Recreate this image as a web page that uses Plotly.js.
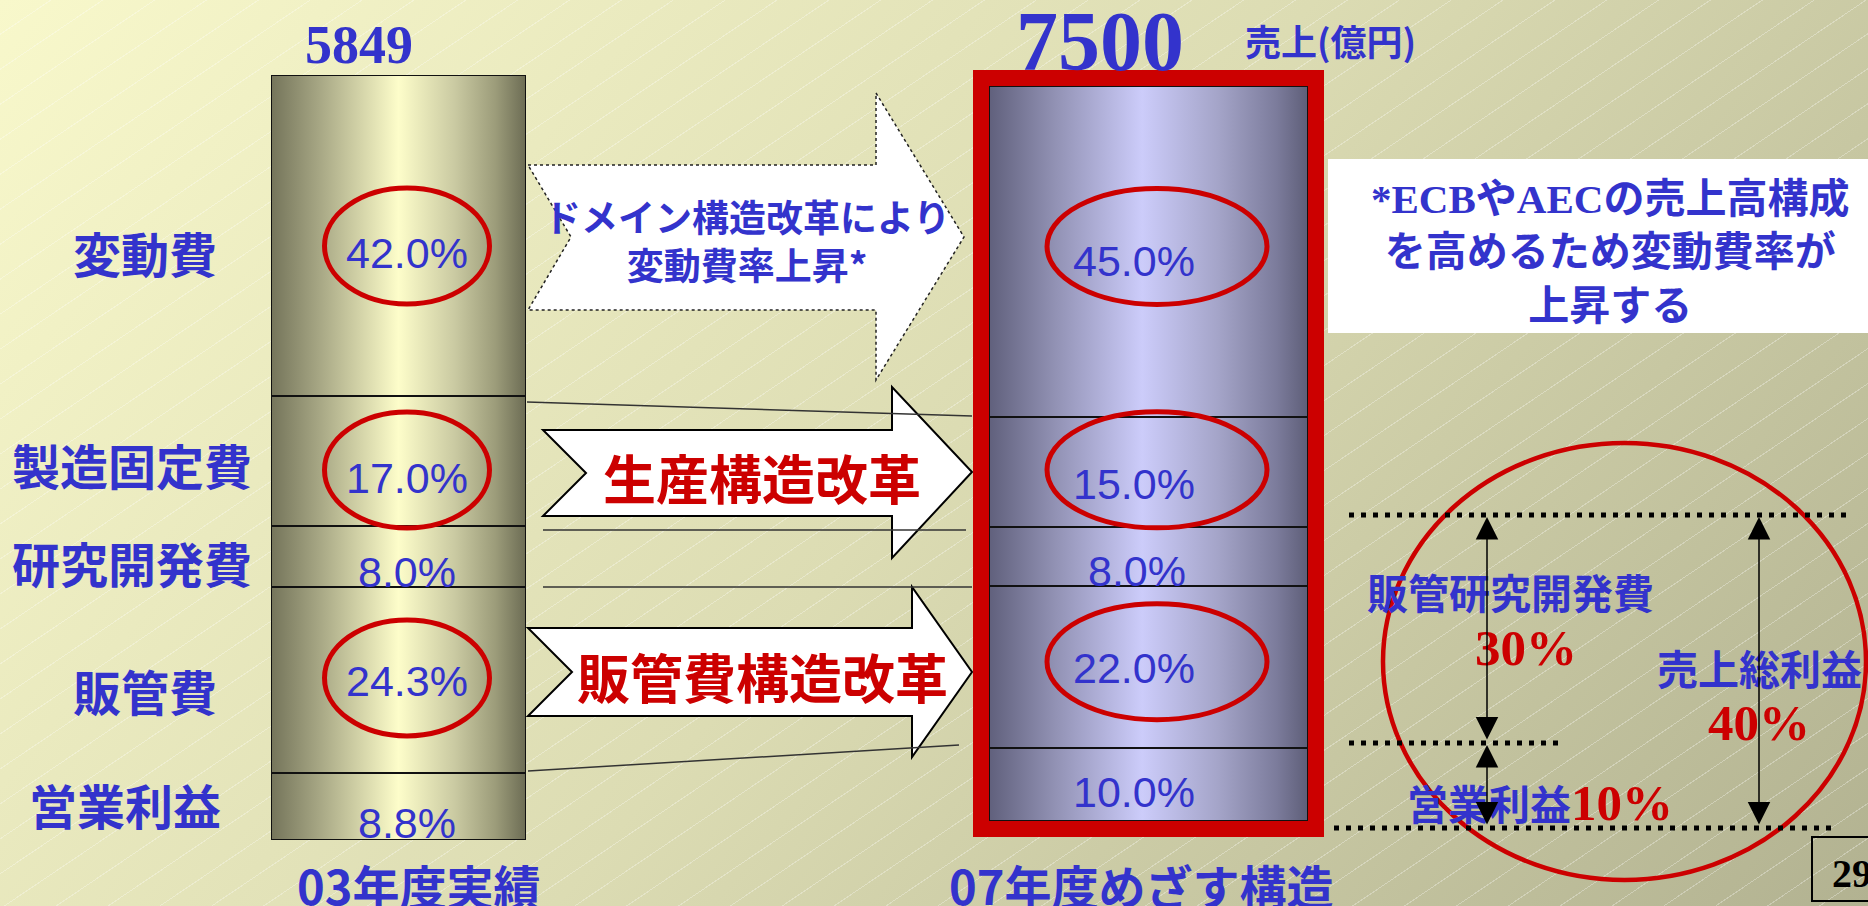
<!DOCTYPE html>
<html><head><meta charset="utf-8">
<script src="https://cdn.plot.ly/plotly-3.0.1.min.js"></script>
<style>
html,body{margin:0;padding:0;width:1868px;height:906px;overflow:hidden;}
body{background:
 repeating-linear-gradient(146deg, rgba(255,255,255,0) 0px, rgba(255,255,255,0) 28px, rgba(255,255,255,0.3) 28px, rgba(255,255,255,0.3) 29px),
 linear-gradient(130deg, #f8f8cb 0%, #dcdcb3 50%, #b2b291 100%);}
#chart{width:1868px;height:906px;}
</style></head><body><div id="chart"></div>
<script>
// ---------------- data ----------------
const categories = ['変動費', '製造固定費', '研究開発費', '販管費', '営業利益']; // top -> bottom
const share03 = [42.0, 17.0, 8.0, 24.3, 8.8];
const share07 = [45.0, 15.0, 8.0, 22.0, 10.0];
const highlighted = ['変動費', '製造固定費', '販管費'];
const sales = [5849, 7500];
const years = ['03年度実績', '07年度めざす構造'];
const salesUnit = '売上(億円)';
const reforms = ['ドメイン構造改革により<br>変動費率上昇*', '生産構造改革', '販管費構造改革'];
const noteLines = ['*ECBやAECの売上高構成', 'を高めるため変動費率が', '上昇する'];
const pageNo = '29';

// ---------------- style ----------------
const W = 1868, H = 906;
const BLUE = '#3333cc', RED = '#cc0000';
const JP = "'Noto Sans CJK JP', 'Noto Sans', sans-serif";
const SERIF = "'Liberation Serif', 'Times New Roman', serif";
const NARROW = "'Liberation Sans Narrow', 'Arial Narrow', 'Liberation Sans', sans-serif";

const sum = a => a.reduce((s, v) => s + v, 0);
const total03 = sum(share03), total07 = sum(share07);
function mids(vals) { const m = []; let acc = 0; for (let i = vals.length - 1; i >= 0; i--) { m[i] = acc + vals[i] / 2; acc += vals[i]; } return m; }
const mid03 = mids(share03), mid07 = mids(share07);
const idx = n => categories.indexOf(n);

// derived targets for 07
const sgaRd = share07[idx('研究開発費')] + share07[idx('販管費')];
const opm = share07[idx('営業利益')];
const gross = sgaRd + opm;

// ---------------- traces ----------------
const traces = [];
[[share03, 'x', 'y'], [share07, 'x2', 'y2']].forEach(([vals, xa, ya]) => {
  for (let i = vals.length - 1; i >= 0; i--) {
    traces.push({type: 'bar', x: [0], y: [vals[i]], name: categories[i], xaxis: xa, yaxis: ya, width: 1,
      marker: {color: 'rgba(0,0,0,0)', line: {color: '#111', width: 2}}, hoverinfo: 'skip', showlegend: false});
  }
});
traces.push({type: 'scatter', x: [], y: [], xaxis: 'x3', yaxis: 'y3', hoverinfo: 'skip', showlegend: false});

// ---------------- gradient images ----------------
function gradURI(stops) {
  const s = stops.map(([o, c]) => `<stop offset="${o}" stop-color="${c}"/>`).join('');
  return 'data:image/svg+xml;charset=utf-8,' + encodeURIComponent(
    `<svg xmlns="http://www.w3.org/2000/svg" width="200" height="200" viewBox="0 0 200 200" preserveAspectRatio="none"><defs><linearGradient id="g" x1="0" y1="0" x2="1" y2="0">${s}</linearGradient></defs><rect width="200" height="200" fill="url(#g)"/></svg>`);
}
const oliveStops = [[0, '#74745a'], [0.18, '#a4a482'], [0.5, '#fdfdca'], [0.72, '#cacaa2'], [0.88, '#9c9c7a'], [1, '#6c6c54']];
const blueStops = [[0, '#60607c'], [0.2, '#9090b2'], [0.48, '#ccccfa'], [0.72, '#a4a4c8'], [0.9, '#7c7c9c'], [1, '#5e5e78']];
const images = [
  {source: gradURI(oliveStops), xref: 'x', yref: 'y', x: -0.5, y: total03, sizex: 1, sizey: total03, sizing: 'stretch', xanchor: 'left', yanchor: 'top', layer: 'below'},
  {source: gradURI(blueStops), xref: 'x2', yref: 'y2', x: -0.5, y: total07, sizex: 1, sizey: total07, sizing: 'stretch', xanchor: 'left', yanchor: 'top', layer: 'below'}
];

// ---------------- shapes ----------------
const P = {xref: 'x3', yref: 'y3'};
const shapes = [];
// note box
shapes.push(Object.assign({type: 'rect', x0: 1328, x1: 1890, y0: 159, y1: 333, fillcolor: '#ffffff', line: {width: 0}, layer: 'above'}, P));
// arrows
shapes.push(Object.assign({type: 'path', path: 'M528,165 L876,165 L876,93 L964,237 L876,380 L876,310 L528,310 L571,237 Z',
  fillcolor: '#ffffff', line: {color: '#222', width: 1.5, dash: 'dot'}}, P));
shapes.push(Object.assign({type: 'path', path: 'M543,430 L892,430 L892,387 L972,472 L892,558 L892,516 L543,516 L586,473 Z',
  fillcolor: '#ffffff', line: {color: '#000', width: 2}}, P));
shapes.push(Object.assign({type: 'path', path: 'M528,628 L912,628 L912,587 L972,672 L912,757 L912,716 L528,716 L572,672 Z',
  fillcolor: '#ffffff', line: {color: '#000', width: 2}}, P));
// connector lines
[[527, 402, 972, 416], [543, 530, 966, 530], [543, 587, 972, 587], [528, 771, 959, 745]].forEach(([a, b, c, d]) =>
  shapes.push(Object.assign({type: 'line', x0: a, y0: b, x1: c, y1: d, line: {color: '#333', width: 1.5}}, P)));
// red frame around 07 bar
shapes.push(Object.assign({type: 'rect', x0: 981, x1: 1316, y0: 78, y1: 829, line: {color: RED, width: 16}}, P));
// highlight ellipses tied to segments
const ell03 = {x0: -74, x1: 91, ry: 58, off: {'変動費': -10.5, '製造固定費': -9, '販管費': 2}};
const ell07 = {x0: -101.5, x1: 118.5, ry: 58, off: {'変動費': 5, '製造固定費': 2, '販管費': 5}};
highlighted.forEach(n => {
  [[ell03, mid03, 'x', 'y'], [ell07, mid07, 'x2', 'y2']].forEach(([e, m, xa, ya]) => {
    const o = e.off[n];
    shapes.push({type: 'circle', xref: xa, yref: ya, xsizemode: 'pixel', xanchor: 0, x0: e.x0, x1: e.x1,
      ysizemode: 'pixel', yanchor: m[idx(n)], y0: o - e.ry, y1: o + e.ry, line: {color: RED, width: 5}});
  });
});
// big circle on right
shapes.push(Object.assign({type: 'circle', x0: 1383, x1: 1866, y0: 443, y1: 880, line: {color: RED, width: 4.5}}, P));
// dotted guide lines
[[1349, 1851, 515], [1349, 1558, 743], [1334, 1834, 828]].forEach(([a, b, y]) =>
  shapes.push(Object.assign({type: 'line', x0: a, x1: b, y0: y, y1: y, line: {color: '#000', width: 5, dash: '5px,7px'}}, P)));
// page number box
shapes.push(Object.assign({type: 'rect', x0: 1812, x1: 1895, y0: 837, y1: 901, line: {color: '#000', width: 2}}, P));

// ---------------- annotations ----------------
const ann = [];
const pctFont = {family: NARROW, size: 43, color: BLUE};
const shift03 = {x: [8, 8, 8, 8, 8], y: [-17.5, -17, -15.5, -1, -16.6]};
const shift07 = {x: [-14.5, -14.5, -11.5, -14.5, -14.5], y: [-10, -12, -15, -1, -8]};
categories.forEach((c, i) => {
  ann.push({xref: 'x', yref: 'y', x: 0, y: mid03[i], xshift: shift03.x[i], yshift: shift03.y[i], text: share03[i].toFixed(1) + '%', showarrow: false, font: pctFont, xanchor: 'center', yanchor: 'middle'});
  ann.push({xref: 'x2', yref: 'y2', x: 0, y: mid07[i], xshift: shift07.x[i], yshift: shift07.y[i], text: share07[i].toFixed(1) + '%', showarrow: false, font: pctFont, xanchor: 'center', yanchor: 'middle'});
});
// category labels (left)
const catX = [145, 132, 132, 145, 125];
const catShift = [-16.5, -3, -5.5, -10, 2.4];
categories.forEach((c, i) => {
  ann.push({xref: 'paper', yref: 'y', x: catX[i] / W, y: mid03[i], yshift: catShift[i], text: c, showarrow: false,
    xanchor: 'center', yanchor: 'middle', font: {family: JP, size: 48, color: BLUE, weight: 'bold'}});
});
// totals
ann.push({xref: 'x', yref: 'y', x: 0, y: total03, xshift: -39.5, yshift: 30, text: String(sales[0]), showarrow: false,
  xanchor: 'center', yanchor: 'middle', font: {family: SERIF, size: 54, color: BLUE, weight: 'bold'}});
ann.push({xref: 'x2', yref: 'y2', x: 0, y: total07, xshift: -48.5, yshift: 45, text: String(sales[1]), showarrow: false,
  xanchor: 'center', yanchor: 'middle', font: {family: SERIF, size: 84, color: BLUE, weight: 'bold'}});
ann.push(Object.assign({x: 1330, y: 40, text: salesUnit, showarrow: false, font: {family: JP, size: 36, color: BLUE, weight: 'bold'}}, P));
// year labels
ann.push({xref: 'x', yref: 'paper', x: 0, xshift: 19.5, y: 1 - 884 / H, xanchor: 'center', yanchor: 'middle', text: years[0], showarrow: false, font: {family: JP, size: 47, color: BLUE, weight: 'bold'}});
ann.push({xref: 'x2', yref: 'paper', x: 0, xshift: -7.5, y: 1 - 884 / H, xanchor: 'center', yanchor: 'middle', text: years[1], showarrow: false, font: {family: JP, size: 47, color: BLUE, weight: 'bold'}});
// reform arrow texts
ann.push(Object.assign({x: 747, y: 240, text: reforms[0], showarrow: false, font: {family: JP, size: 37, color: BLUE, weight: 'bold'}}, P));
ann.push(Object.assign({x: 762, y: 477, text: reforms[1], showarrow: false, font: {family: JP, size: 53, color: RED, weight: 'bold'}}, P));
ann.push(Object.assign({x: 762, y: 676, text: reforms[2], showarrow: false, font: {family: JP, size: 53, color: RED, weight: 'bold'}}, P));
// note
const latin = s => s.replace(/([*A-Z]+)/g, '<span style="font-family:Liberation Serif">$1</span>');
ann.push(Object.assign({x: 1610, y: 248, text: noteLines.map(latin).join('<br>'), showarrow: false,
  font: {family: JP, size: 41, color: BLUE, weight: 'bold'}}, P));
// right-side breakdown
const pct = v => Math.round(v) + '%';
ann.push(Object.assign({x: 1510, y: 591, text: '販管研究開発費', showarrow: false, font: {family: JP, size: 41, color: BLUE, weight: 'bold'}}, P));
ann.push(Object.assign({x: 1526, y: 648, text: pct(sgaRd), showarrow: false, font: {family: SERIF, size: 51, color: RED, weight: 'bold'}}, P));
ann.push(Object.assign({x: 1759, y: 667, text: '売上総利益', showarrow: false, font: {family: JP, size: 41, color: BLUE, weight: 'bold'}}, P));
ann.push(Object.assign({x: 1759, y: 723, text: pct(gross), showarrow: false, font: {family: SERIF, size: 51, color: RED, weight: 'bold'}}, P));
ann.push(Object.assign({x: 1540, y: 802, text: '営業利益<span style="font-family:Liberation Serif;color:#cc0000;font-size:51px">' + pct(opm) + '</span>',
  showarrow: false, font: {family: JP, size: 41, color: BLUE, weight: 'bold'}}, P));
// vertical double arrows
[[1487, 517, 741], [1487, 745, 826], [1759, 517, 826]].forEach(([x, y1, y2]) => {
  ann.push(Object.assign({axref: 'x3', ayref: 'y3', x: x, y: y1, ax: x, ay: y2, text: '', showarrow: true,
    arrowhead: 2, startarrowhead: 2, arrowside: 'end+start', arrowsize: 3, startarrowsize: 3, arrowwidth: 1.5, arrowcolor: '#000'}, P));
});
// page number
ann.push(Object.assign({x: 1830, y: 873, xanchor: 'left', text: pageNo, showarrow: false, font: {family: SERIF, size: 40, color: '#000', weight: 'bold'}}, P));

const layout = {
  width: W, height: H, margin: {l: 0, r: 0, t: 0, b: 0},
  paper_bgcolor: 'rgba(0,0,0,0)', plot_bgcolor: 'rgba(0,0,0,0)',
  barmode: 'stack', showlegend: false, bargap: 0,
  xaxis: {domain: [271 / W, 526 / W], range: [-0.5, 0.5], visible: false, fixedrange: true, anchor: 'y'},
  yaxis: {domain: [1 - 840 / H, 1 - 75 / H], range: [0, total03], visible: false, fixedrange: true, anchor: 'x'},
  xaxis2: {domain: [989 / W, 1308 / W], range: [-0.5, 0.5], visible: false, fixedrange: true, anchor: 'y2'},
  yaxis2: {domain: [1 - 821 / H, 1 - 86 / H], range: [0, total07], visible: false, fixedrange: true, anchor: 'x2'},
  xaxis3: {domain: [0, 1], range: [0, W], visible: false, fixedrange: true, anchor: 'y3'},
  yaxis3: {domain: [0, 1], range: [H, 0], visible: false, fixedrange: true, anchor: 'x3'},
  images: images, shapes: shapes, annotations: ann
};
Plotly.newPlot('chart', traces, layout, {staticPlot: true, displayModeBar: false});
</script></body></html>
